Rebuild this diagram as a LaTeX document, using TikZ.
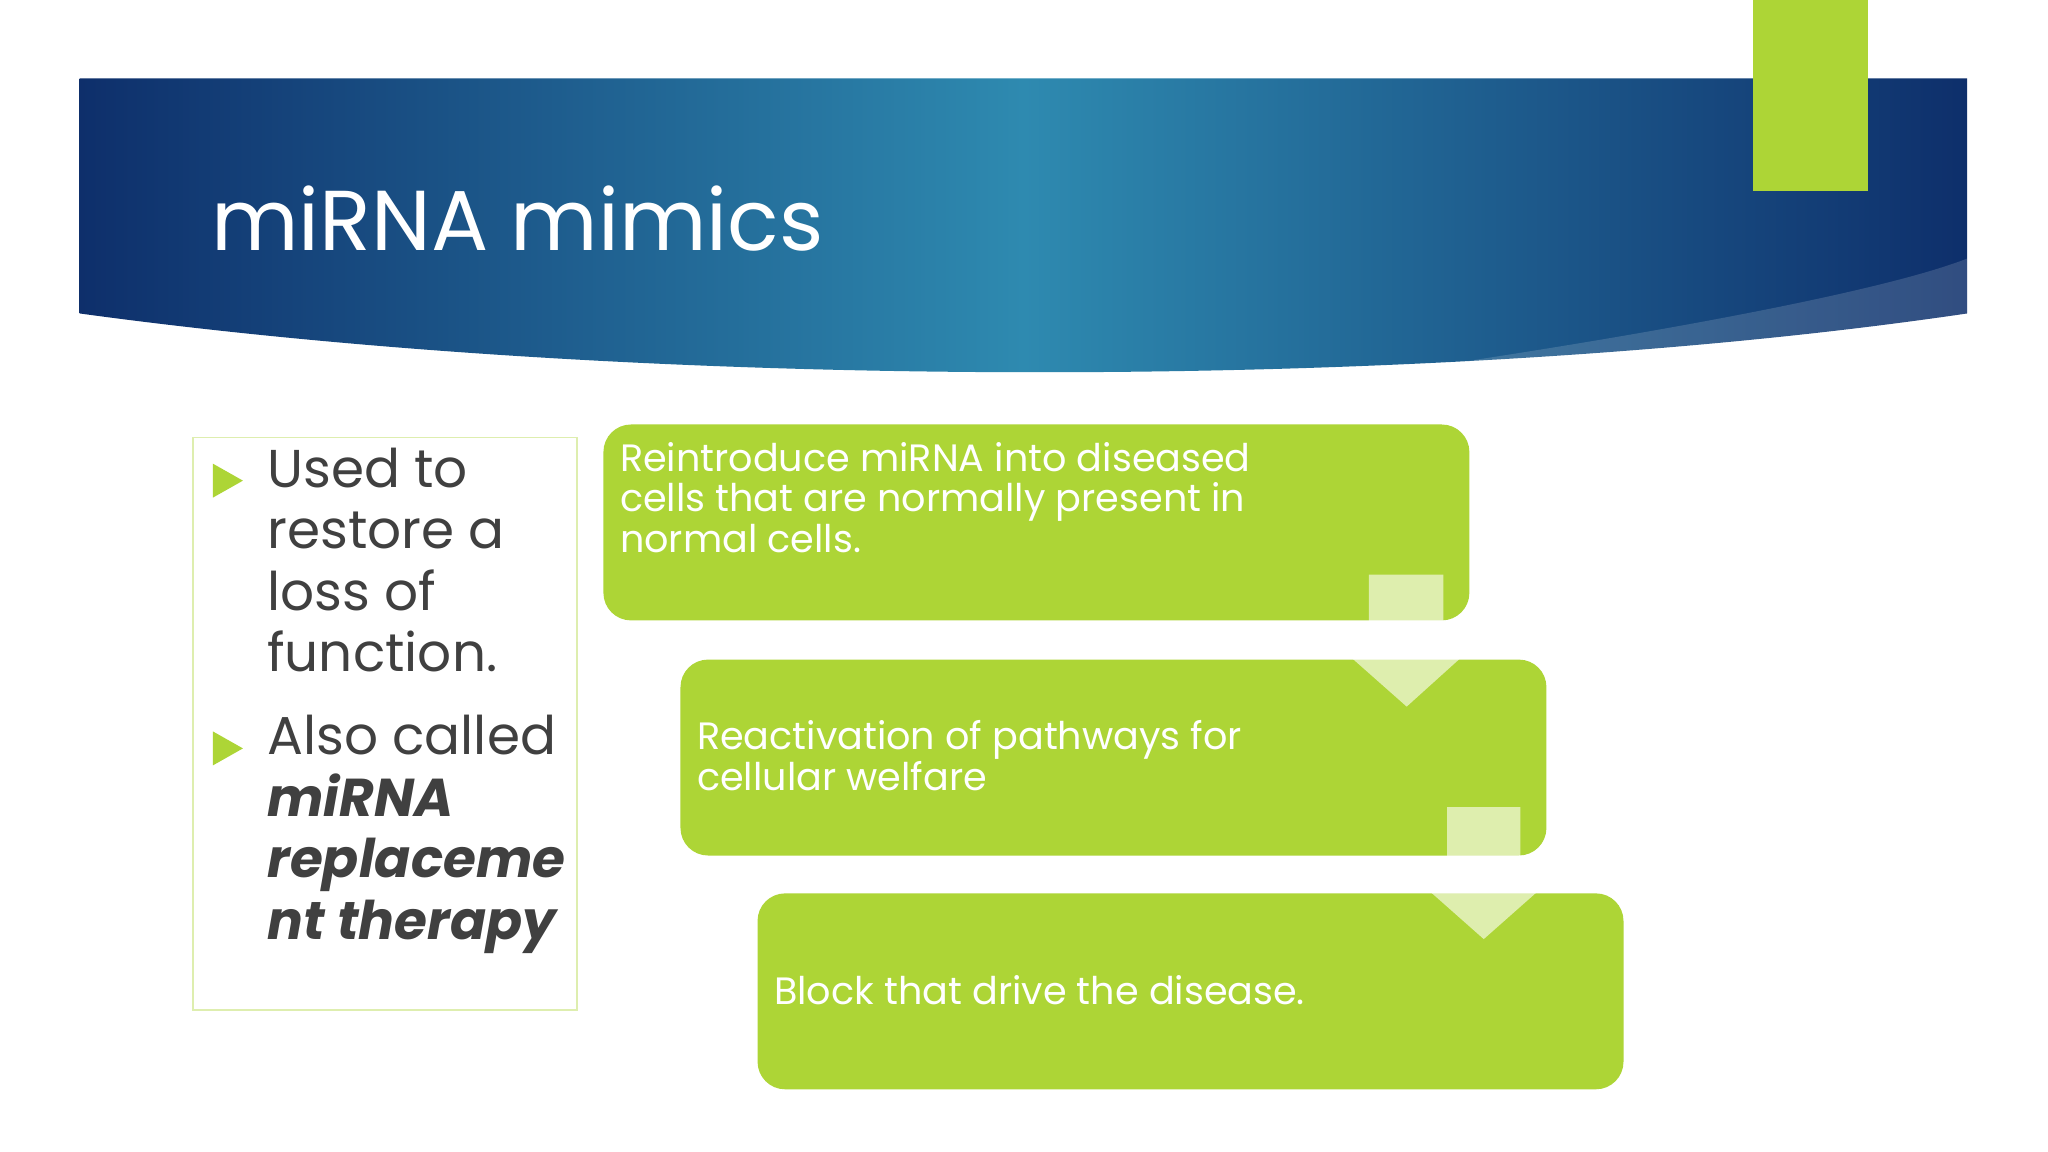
\documentclass[tikz,border=0pt]{standalone}
\usepackage{fontspec}
\setmainfont{Poppins}
\usetikzlibrary{shapes.arrows}
\definecolor{lg}{HTML}{ADD536}
\definecolor{db}{HTML}{0E2F6B}
\definecolor{mb}{HTML}{2E8AB0}
\definecolor{tx}{HTML}{404040}
\tikzset{
 gbox/.style={fill=lg,rounded corners=6pt,draw=none},
 btxt/.style={text=white,font=\fontsize{8.3}{8.8}\selectfont,align=left,anchor=north west,inner sep=0},
 darrow/.style={fill=white,fill opacity=0.6,draw=none},
 bul/.style={fill=lg,draw=none}
}
\begin{document}
\begin{tikzpicture}[x=0.01cm,y=-0.01cm]
\useasboundingbox (0,0) rectangle (1568,882);
\fill[white] (0,0) rectangle (1568,882);
% banner
\shade[left color=db, right color=db, middle color=mb] (61,60) -- (1506,60) -- (1506,240) .. controls (1100,300) and (500,300) .. (61,240) -- cycle;
\fill[white,opacity=0.15] (1100,280) .. controls (1300,250) and (1450,220) .. (1506,198) -- (1506,240) .. controls (1400,258) and (1250,275) .. cycle;
\node[text=white,font=\fontsize{18.5}{20}\selectfont,anchor=base west,inner sep=0] (title) at (161,192) {miRNA mimics};
\fill[lg] (1342,0) rectangle (1430,146);
% left box
\draw[lg!40,line width=0.4pt] (148,335) rectangle (442,773);
\fill[bul] (163,355) -- (186,368) -- (163,381) -- cycle;
\fill[bul] (163,560) -- (186,573) -- (163,586) -- cycle;
\node[text=tx,font=\fontsize{11.6}{13.4}\selectfont,align=left,anchor=north west,inner sep=0] (t1) at (204,342) {Used to\\restore a\\loss of\\function.};
\node[text=tx,font=\fontsize{11.6}{13.4}\selectfont,align=left,anchor=north west,inner sep=0] (t2) at (204,547) {Also called\\\textbf{\textit{miRNA}}\\\textbf{\textit{replaceme}}\\\textbf{\textit{nt therapy}}};
% boxes
\fill[gbox] (462,325) rectangle (1125,475);
\fill[gbox] (521,505) rectangle (1184,655);
\fill[gbox] (580,684) rectangle (1243,834);
\node[btxt] (b1) at (474,338) {Reintroduce miRNA into diseased\\cells that are normally present in\\normal cells.};
\node[btxt] (b2) at (533,551) {Reactivation of pathways for\\cellular welfare};
\node[btxt] (b3) at (592,746) {Block that drive the disease.};
% arrows
\fill[darrow] (1048,440) -- (1105,440) -- (1105,495) -- (1128,495) -- (1077,541) -- (1025,495) -- (1048,495) -- cycle;
\fill[darrow] (1108,618) -- (1164,618) -- (1164,673) -- (1188,673) -- (1136,719) -- (1084,673) -- (1108,673) -- cycle;
\end{tikzpicture}
\end{document}
